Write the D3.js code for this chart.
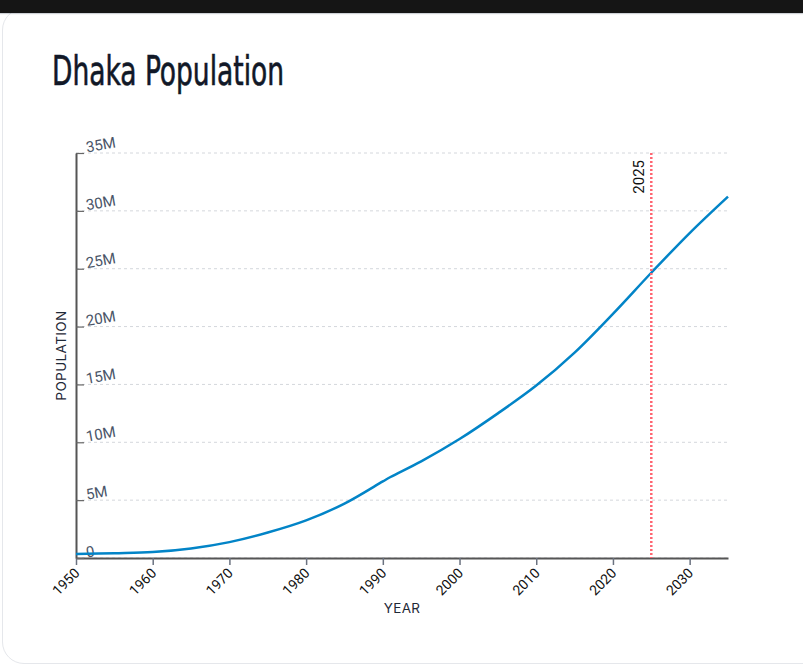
<!DOCTYPE html>
<html>
<head>
<meta charset="utf-8">
<script src="https://cdn.jsdelivr.net/npm/d3@7.9.0/dist/d3.min.js"></script>
<style>
  html, body { margin: 0; padding: 0; background: #ffffff; overflow: hidden; }
  #bar {
    position: absolute; left: 0; top: 0; width: 803px; height: 13px;
    background: #151515; box-shadow: 0 1px 1px rgba(60, 70, 90, 0.25); z-index: 2;
  }
  #card {
    position: absolute; left: 2px; top: 8px; width: 840px; height: 654px;
    border: 1px solid #e5e7eb; border-radius: 22px; background: #fff;
  }
  #chart { position: absolute; left: 0; top: 0; }
</style>
</head>
<body>
<div id="bar"></div>
<div id="card"></div>
<svg id="chart" width="803" height="665"></svg>
<script>
// Dhaka population (millions)
const years = [1950, 1955, 1960, 1965, 1970, 1975, 1980, 1985, 1990, 1991, 1995, 2000, 2005, 2010, 2015, 2020, 2025, 2030, 2035];
const population = [0.34, 0.41, 0.51, 0.82, 1.37, 2.2, 3.25, 4.7, 6.62, 7.0, 8.35, 10.28, 12.5, 14.9, 17.75, 21.1, 24.65, 28.08, 31.23];
const yTicks = [0, 5, 10, 15, 20, 25, 30, 35];
const xTicks = [1950, 1960, 1970, 1980, 1990, 2000, 2010, 2020, 2030];
const markerYear = 2025;

const data = years.map((y, i) => ({ year: y, pop: population[i] * 1e6 }));

const width = 803;
const height = 665;
const margin = { top: 153, right: 75, bottom: 107, left: 76 };

const svg = d3.select('#chart');

const xScale = d3.scaleLinear()
  .domain([1950, 2035])
  .range([margin.left, width - margin.right]);

const yScale = d3.scaleLinear()
  .domain([0, 35e6])
  .range([height - margin.bottom, margin.top]);

// title
svg.append('text')
  .attr('x', 52)
  .attr('y', 85)
  .attr('textLength', 232)
  .attr('lengthAdjust', 'spacingAndGlyphs')
  .style('font-family', '"Liberation Sans Narrow", "DejaVu Sans Condensed", sans-serif')
  .style('font-size', '41px')
  .style('fill', '#111827')
  .style('stroke', '#111827')
  .style('stroke-width', 0.6)
  .text('Dhaka Population');

// gridlines
svg.append('g')
  .attr('class', 'gridlines')
  .selectAll('line')
  .data(yTicks)
  .join('line')
  .attr('x1', margin.left)
  .attr('x2', width - margin.right)
  .attr('y1', (d) => yScale(d * 1e6))
  .attr('y2', (d) => yScale(d * 1e6))
  .attr('stroke', '#d4d7dc')
  .attr('stroke-width', 1)
  .attr('stroke-dasharray', '3,3');

// x axis
const xAxis = d3.axisBottom(xScale)
  .tickValues(xTicks)
  .tickFormat(d3.format('d'))
  .tickSize(7)
  .tickSizeOuter(0);

const gx = svg.append('g')
  .attr('transform', `translate(0, ${height - margin.bottom})`)
  .call(xAxis);

gx.select('.domain').attr('stroke', '#555').attr('stroke-width', 2);
gx.selectAll('.tick line').attr('stroke', '#6b7280').attr('stroke-width', 1.5);
gx.selectAll('.tick text')
  .attr('y', 0)
  .attr('dy', 0)
  .attr('transform', 'translate(4, 16) rotate(-45)')
  .attr('text-anchor', 'end')
  .style('font-family', 'Roboto, sans-serif')
  .style('font-size', '14px')
  .style('fill', '#111');

// y axis (ticks point into the plot, labels tilted)
const yAxis = d3.axisRight(yScale)
  .tickValues(yTicks.map((d) => d * 1e6))
  .tickFormat((d) => (d === 0 ? '0' : d / 1e6 + 'M'))
  .tickSize(8)
  .tickSizeOuter(0);

const gy = svg.append('g')
  .attr('transform', `translate(${margin.left}, 0)`)
  .call(yAxis);

gy.select('.domain').attr('stroke', '#555').attr('stroke-width', 2);
gy.selectAll('.tick line').attr('stroke', '#666').attr('stroke-width', 1.2);
gy.selectAll('.tick text')
  .attr('x', 0)
  .attr('dy', 0)
  .attr('transform', 'translate(11, -1) rotate(-10)')
  .style('font-family', 'Roboto, sans-serif')
  .style('font-size', '15px')
  .style('fill', '#4a5568');

// axis titles
svg.append('text')
  .attr('x', (margin.left + width - margin.right) / 2)
  .attr('y', 613)
  .attr('text-anchor', 'middle')
  .style('font-family', 'Inter, sans-serif')
  .style('font-size', '13.5px')
  .style('letter-spacing', '0.3px')
  .style('fill', '#1f2937')
  .text('YEAR');

svg.append('text')
  .attr('transform', `translate(66, ${(margin.top + height - margin.bottom) / 2}) rotate(-90)`)
  .attr('text-anchor', 'middle')
  .style('font-family', 'Inter, sans-serif')
  .style('font-size', '13.5px')
  .style('letter-spacing', '0.4px')
  .style('fill', '#1f2937')
  .text('POPULATION');

// population line
const line = d3.line()
  .x((d) => xScale(d.year))
  .y((d) => yScale(d.pop))
  .curve(d3.curveCatmullRom.alpha(0.5));

svg.append('path')
  .datum(data)
  .attr('fill', 'none')
  .attr('stroke', '#0284c7')
  .attr('stroke-width', 2.5)
  .attr('stroke-linejoin', 'round')
  .attr('d', line);

// current year marker
svg.append('line')
  .attr('x1', xScale(markerYear))
  .attr('x2', xScale(markerYear))
  .attr('y1', margin.top)
  .attr('y2', height - margin.bottom)
  .attr('stroke', '#ff6470')
  .attr('stroke-width', 2.5)
  .attr('stroke-dasharray', '2,2');

svg.append('text')
  .attr('transform', `translate(${xScale(markerYear) - 7}, 160) rotate(-90)`)
  .attr('text-anchor', 'end')
  .style('font-family', 'Roboto, sans-serif')
  .style('font-size', '15px')
  .style('fill', '#111')
  .text(markerYear);
</script>
</body>
</html>
